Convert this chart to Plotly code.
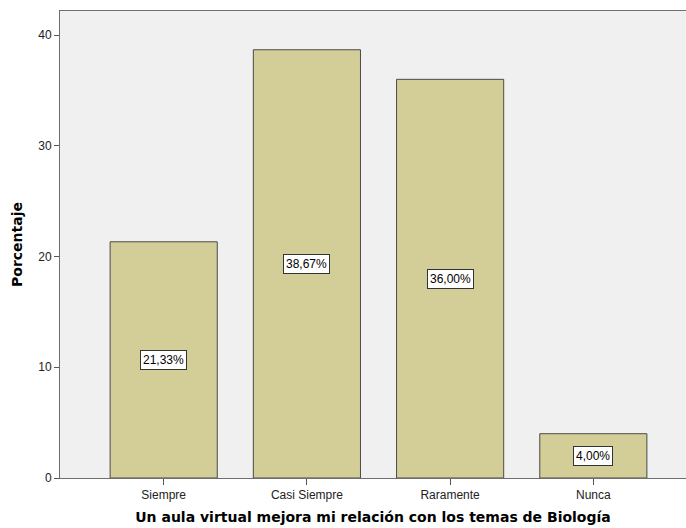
import plotly.graph_objects as go

categorias = ["Siempre", "Casi Siempre", "Raramente", "Nunca"]
porcentajes = [21.33, 38.67, 36.00, 4.00]
ticks_y = [0, 10, 20, 30, 40]

x_pos = list(range(len(categorias)))

fig = go.Figure(
    go.Bar(
        x=x_pos,
        y=porcentajes,
        width=0.748,
        marker=dict(color="#D3CE97", line=dict(color="#4a4a4a", width=1)),
        hoverinfo="skip",
    )
)

# Etiquetas de porcentaje en recuadro blanco, en la mitad de cada barra
for xi, v in zip(x_pos, porcentajes):
    fig.add_annotation(
        x=xi, y=v / 2,
        text=f"{v:.2f}%".replace(".", ","),
        showarrow=False,
        font=dict(family="Arial, Liberation Sans", size=12, color="black"),
        bgcolor="white",
        bordercolor="#333333",
        borderwidth=1,
        borderpad=2,
    )

fig.update_layout(
    width=686, height=528,
    margin=dict(l=60, r=0, t=11, b=50),
    paper_bgcolor="white",
    plot_bgcolor="#F0F0F0",
    showlegend=False,
    font=dict(family="Arial, Liberation Sans", size=12, color="#222222"),
)

titulo_font = dict(family="DejaVu Sans", size=14, color="black")

fig.update_xaxes(
    range=[-0.724, 3.647],
    tickmode="array", tickvals=x_pos, ticktext=categorias,
    ticks="outside", ticklen=6, tickcolor="#555555",
    showline=True, linecolor="#6e6e6e", linewidth=1, mirror=True,
    showgrid=False, zeroline=False,
    tickfont=dict(size=12, color="#222222"),
    title=dict(
        text="<b>Un aula virtual mejora mi relación con los temas de Biología</b>",
        font=titulo_font, standoff=10,
    ),
)

fig.update_yaxes(
    range=[0, 42.17],
    tickmode="array", tickvals=ticks_y,
    ticks="outside", ticklen=5, tickcolor="#555555",
    showline=True, linecolor="#6e6e6e", linewidth=1,
    showgrid=False, zeroline=False,
    tickfont=dict(size=12, color="#222222"),
    title=dict(text="<b>Porcentaje</b>", font=titulo_font, standoff=12),
)

fig.write_html("out.html")
